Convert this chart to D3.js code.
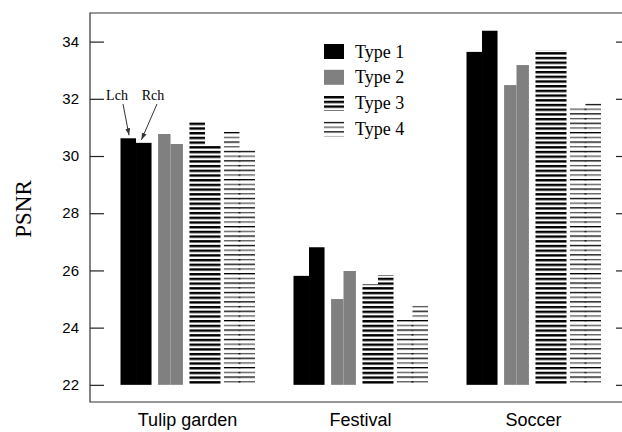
<!DOCTYPE html>
<html>
<head>
<meta charset="utf-8">
<script src="https://d3js.org/d3.v7.min.js"></script>
<style>
body {margin:0; background:#fff; overflow:hidden;}
svg {display:block;}
</style>
</head>
<body>
<div id="chart"></div>
<script>
// PSNR per scene, left / right channel, per type
var scenes = ["Tulip garden", "Festival", "Soccer"];
var types = ["Type 1", "Type 2", "Type 3", "Type 4"];
var type1Lch = [30.62, 25.81, 33.64];
var type1Rch = [30.46, 26.81, 34.38];
var type2Lch = [30.77, 25.00, 32.48];
var type2Rch = [30.42, 25.98, 33.18];
var type3Lch = [31.22, 25.52, 33.70];
var type3Rch = [30.38, 25.84, 33.70];
var type4Lch = [30.87, 24.31, 31.69];
var type4Rch = [30.21, 24.82, 31.84];
var yTicks = [22, 24, 26, 28, 30, 32, 34];
var baseValue = 22;

var lchByType = [type1Lch, type2Lch, type3Lch, type4Lch];
var rchByType = [type1Rch, type2Rch, type3Rch, type4Rch];

var W = 622, H = 432;
var frameL = 90, frameR = 630, frameT = 13, frameB = 402;

var svg = d3.select("#chart").append("svg").attr("width", W).attr("height", H);

var y = d3.scaleLinear().domain([21.4, 35]).range([frameB, frameT]);
var x0 = d3.scaleBand().domain(scenes).range([101, 620]);
var x1 = d3.scaleBand().domain(types).range([-67, 67.5]).paddingInner(0.1);

// stripe patterns
var defs = svg.append("defs");
var period = 4.7;
function stripes(id, rows) {
  var p = defs.append("pattern").attr("id", id)
    .attr("patternUnits", "userSpaceOnUse")
    .attr("width", 10).attr("height", period * rows.length)
    .attr("y", y(baseValue) + 1);
  p.append("rect").attr("width", 10).attr("height", period * rows.length).attr("fill", "#fff");
  rows.forEach(function(r, i) {
    p.append("rect").attr("y", i * period).attr("width", 10)
      .attr("height", r.h).attr("fill", r.c);
  });
}
stripes("stripe3", [{h: 2.4, c: "#000"}]);
stripes("stripe4", [{h: 1.3, c: "#000"}, {h: 1.3, c: "#555"}]);
stripes("stripe4dot", [{h: 1.5, c: "#000"}]);

var fills = ["#000", "#808080", "url(#stripe3)", "url(#stripe4)"];
var widthFactor = [1, 0.8, 1, 1];

// bars
var barData = [];
scenes.forEach(function(s, si) {
  types.forEach(function(t, ti) {
    var full = x1.bandwidth() * widthFactor[ti];
    var x = x0(s) + x0.bandwidth() / 2 + x1(t) + (x1.bandwidth() - full) / 2;
    barData.push({scene: s, type: ti, ch: 0, v: lchByType[ti][si], x: x, w: full / 2});
    barData.push({scene: s, type: ti, ch: 1, v: rchByType[ti][si], x: x + full / 2, w: full / 2});
  });
});

svg.append("g").selectAll("rect").data(barData).enter().append("rect")
  .attr("x", function(d) { return d.x; })
  .attr("y", function(d) { return y(d.v); })
  .attr("width", function(d) { return d.w; })
  .attr("height", function(d) { return y(baseValue) - y(d.v); })
  .attr("fill", function(d) { return fills[d.type]; });

// dark dots where left and right channel stripes meet
svg.append("g").selectAll("rect")
  .data(barData.filter(function(d) { return d.type === 3 && d.ch === 1; }))
  .enter().append("rect")
  .attr("x", function(d) { return d.x - 1; })
  .attr("y", function(d, i) {
    var lv = barData.find(function(b) { return b.scene === d.scene && b.type === 3 && b.ch === 0; }).v;
    return y(Math.min(lv, d.v));
  })
  .attr("width", 2)
  .attr("height", function(d) {
    var lv = barData.find(function(b) { return b.scene === d.scene && b.type === 3 && b.ch === 0; }).v;
    return y(baseValue) - y(Math.min(lv, d.v));
  })
  .attr("fill", "url(#stripe4dot)");

// frame (right side lies just past the picture)
var frame = svg.append("g").attr("stroke", "#333").attr("stroke-width", 1.2).attr("fill", "none");
frame.append("path")
  .attr("d", "M" + frameR + "," + frameT + "H" + frameL + "V" + frameB + "H" + frameR);

// y axis (ticks inward on both sides)
var yAxis = svg.append("g").attr("transform", "translate(" + frameL + ",0)")
  .call(d3.axisRight(y).tickValues(yTicks).tickSize(14).tickFormat(""));
yAxis.select(".domain").remove();
yAxis.selectAll("line").attr("stroke", "#222").attr("stroke-width", 1.2);

var yAxisR = svg.append("g").attr("transform", "translate(" + frameR + ",0)")
  .call(d3.axisLeft(y).tickValues(yTicks).tickSize(14).tickFormat(""));
yAxisR.select(".domain").remove();
yAxisR.selectAll("line").attr("stroke", "#222").attr("stroke-width", 1.2);

svg.append("g").selectAll("text").data(yTicks).enter().append("text")
  .attr("x", 79).attr("y", function(d) { return y(d); })
  .attr("dy", "0.35em")
  .attr("text-anchor", "end")
  .style("font-family", "'Liberation Sans', Arial, sans-serif")
  .style("font-size", "15px")
  .text(function(d) { return d; });

// x labels
svg.append("g").selectAll("text").data(scenes).enter().append("text")
  .attr("x", function(d) { return x0(d) + x0.bandwidth() / 2; })
  .attr("y", 426)
  .attr("text-anchor", "middle")
  .style("font-family", "'Liberation Sans', Arial, sans-serif")
  .style("font-size", "18px")
  .text(function(d) { return d; });

// y title
svg.append("text")
  .attr("transform", "translate(31,209) rotate(-90)")
  .attr("text-anchor", "middle")
  .style("font-family", "'Liberation Serif', 'Times New Roman', serif")
  .style("font-size", "23px")
  .text("PSNR");

// legend
var legend = svg.append("g").attr("transform", "translate(324,44)");
var rows = legend.selectAll("g").data(types).enter().append("g")
  .attr("transform", function(d, i) { return "translate(0," + (i * 25.8) + ")"; });
rows.append("rect")
  .attr("width", 20).attr("height", 15)
  .attr("fill", function(d, i) { return fills[i]; });
rows.append("text")
  .attr("x", 31).attr("y", 13.5)
  .style("font-family", "'Liberation Serif', 'Times New Roman', serif")
  .style("font-size", "18px")
  .text(function(d) { return d; });

// Lch / Rch annotation on first group
var first = barData.filter(function(d) { return d.scene === scenes[0] && d.type === 0; });
defs.append("marker").attr("id", "arr")
  .attr("viewBox", "0 0 10 10").attr("refX", 10).attr("refY", 5)
  .attr("markerWidth", 7).attr("markerHeight", 7).attr("orient", "auto")
  .append("path").attr("d", "M0,1.5L10,5L0,8.5Z").attr("fill", "#333");
var labelPos = [{t: "Lch", x: 117, ax: 123}, {t: "Rch", x: 153, ax: 157}];
first.forEach(function(d, i) {
  svg.append("text")
    .attr("x", labelPos[i].x).attr("y", 100)
    .attr("text-anchor", "middle")
    .style("font-family", "'Liberation Serif', 'Times New Roman', serif")
    .style("font-size", "14px")
    .text(labelPos[i].t);
  svg.append("line")
    .attr("x1", labelPos[i].ax).attr("y1", 104)
    .attr("x2", d.x + (i === 0 ? d.w * 0.55 : d.w * 0.35)).attr("y2", y(d.v) - 3)
    .attr("stroke", "#333").attr("stroke-width", 1)
    .attr("marker-end", "url(#arr)");
});
</script>
</body>
</html>
